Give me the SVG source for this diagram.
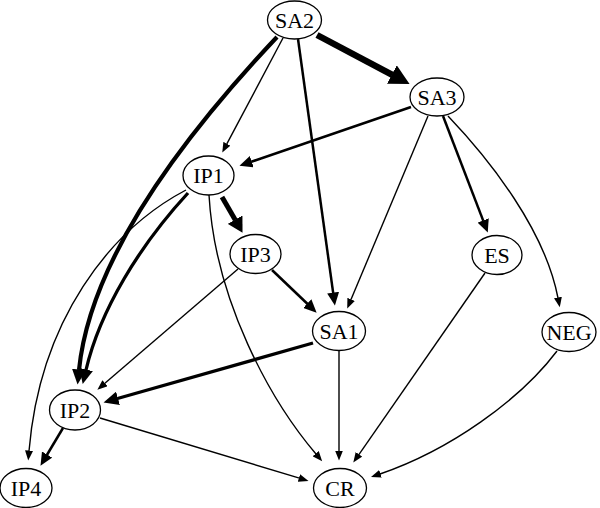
<svg xmlns="http://www.w3.org/2000/svg" width="600" height="508" viewBox="0 0 600 508">
<style>
.n ellipse{fill:#fff;stroke:#000;stroke-width:1.3}
.n text{text-anchor:middle;fill:#000;font-family:"Liberation Serif","DejaVu Serif",serif;font-size:22px}
.e path{fill:none;stroke:#000}
.t1{stroke-width:1.4;marker-end:url(#ah1)}
.t2{stroke-width:2.5;marker-end:url(#ah2)}
.t3{stroke-width:3.3;marker-end:url(#ah3)}
.t4{stroke-width:4.2;marker-end:url(#ah3)}
.t5{stroke-width:5;marker-end:url(#ah5)}
.t6{stroke-width:6.5;marker-end:url(#ah4)}
</style>
<defs>
<marker id="ah1" markerUnits="userSpaceOnUse" markerWidth="11" markerHeight="8" refX="0.5" refY="4" orient="auto"><path d="M0,0 L10,4 L0,8 z" fill="#000"/></marker>
<marker id="ah2" markerUnits="userSpaceOnUse" markerWidth="14" markerHeight="12" refX="0.5" refY="6" orient="auto"><path d="M0,0 L13,6 L0,12 z" fill="#000"/></marker>
<marker id="ah3" markerUnits="userSpaceOnUse" markerWidth="16" markerHeight="14" refX="0.5" refY="7" orient="auto"><path d="M0,0 L15,7 L0,14 z" fill="#000"/></marker>
<marker id="ah5" markerUnits="userSpaceOnUse" markerWidth="16" markerHeight="17" refX="0.5" refY="8.5" orient="auto"><path d="M0,0 L15,8.5 L0,17 z" fill="#000"/></marker>
<marker id="ah4" markerUnits="userSpaceOnUse" markerWidth="21" markerHeight="21" refX="0.5" refY="10.5" orient="auto"><path d="M0,0 L20,10.5 L0,21 z" fill="#000"/></marker>
</defs>
<g id="edges" class="e">
<path class="t6" d="M317,35 L392.3,74.8"/>
<path class="t1" d="M283,38 L226.7,144.2"/>
<path class="t2" d="M298,39 L333.2,293.1"/>
<path class="t4" d="M277,37 C180,140 90,260 79,370"/>
<path class="t2" d="M411,107 L251.3,161.8"/>
<path class="t1" d="M428,116 L350.9,299.8"/>
<path class="t2" d="M443,116 L483.3,220.9"/>
<path class="t1" d="M448,116 C490,160 545,230 558,298"/>
<path class="t5" d="M222,197 L235.3,220.1"/>
<path class="t3" d="M188,193 C140,245 100,310 86,370"/>
<path class="t1" d="M186,190 C110,230 40,320 29,451"/>
<path class="t1" d="M209,195 C215,300 270,400 316,454"/>
<path class="t2" d="M272,270 L307.6,304"/>
<path class="t1" d="M238,269 L104.6,383.5"/>
<path class="t3" d="M313,343 L117.5,398.5"/>
<path class="t1" d="M339,350 L339,451"/>
<path class="t1" d="M485,273 L358.7,454.8"/>
<path class="t1" d="M557,351 C520,400 450,450 380,474"/>
<path class="t2" d="M63,428 L46.9,455"/>
<path class="t1" d="M100,418 L299.4,478.2"/>
</g>
<g id="SA2" class="n"><ellipse cx="294.5" cy="20" rx="27" ry="19"/><text x="294.5" y="27.5" style="font-family:'Liberation Serif',serif;font-size:22px">SA2</text></g>
<g id="SA3" class="n"><ellipse cx="437" cy="97" rx="27" ry="19"/><text x="437" y="104.5" style="font-family:'Liberation Serif',serif;font-size:22px">SA3</text></g>
<g id="IP1" class="n"><ellipse cx="208.5" cy="175.5" rx="25.5" ry="19.5"/><text x="208.5" y="183" style="font-family:'Liberation Serif',serif;font-size:22px">IP1</text></g>
<g id="IP3" class="n"><ellipse cx="255.5" cy="254" rx="25.5" ry="19.5"/><text x="255.5" y="261.5" style="font-family:'Liberation Serif',serif;font-size:22px">IP3</text></g>
<g id="ES" class="n"><ellipse cx="497" cy="255" rx="25" ry="19.5"/><text x="497" y="262.5" style="font-family:'Liberation Serif',serif;font-size:22px">ES</text></g>
<g id="SA1" class="n"><ellipse cx="339" cy="331" rx="26.5" ry="19.5"/><text x="339" y="338.5" style="font-family:'Liberation Serif',serif;font-size:22px">SA1</text></g>
<g id="NEG" class="n"><ellipse cx="569" cy="332" rx="27" ry="19.5"/><text x="569" y="339.5" style="font-family:'Liberation Serif',serif;font-size:22px">NEG</text></g>
<g id="IP2" class="n"><ellipse cx="75" cy="410" rx="25.5" ry="20"/><text x="75" y="417.5" style="font-family:'Liberation Serif',serif;font-size:22px">IP2</text></g>
<g id="IP4" class="n"><ellipse cx="26" cy="488" rx="26" ry="19.5"/><text x="26" y="495.5" style="font-family:'Liberation Serif',serif;font-size:22px">IP4</text></g>
<g id="CR" class="n"><ellipse cx="340" cy="488" rx="26.5" ry="19.5"/><text x="340" y="495.5" style="font-family:'Liberation Serif',serif;font-size:22px">CR</text></g>
</svg>
